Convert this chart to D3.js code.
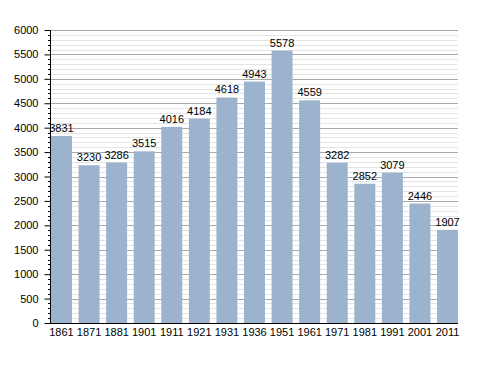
<!DOCTYPE html>
<html><head><meta charset="utf-8">
<script src="https://cdn.jsdelivr.net/npm/d3@7"></script>
<style>body{margin:0;background:#fff}svg{display:block}</style>
</head><body>
<svg id="c" width="488" height="373"></svg>
<script>
const years = ["1861","1871","1881","1901","1911","1921","1931","1936","1951","1961","1971","1981","1991","2001","2011"];
const population = [3831,3230,3286,3515,4016,4184,4618,4943,5578,4559,3282,2852,3079,2446,1907];
const yTicks = [0,500,1000,1500,2000,2500,3000,3500,4000,4500,5000,5500,6000];

(function () {
const svg = d3.select("#c");
const mLeft = 51, mRight = 458, mTop = 30, mBottom = 323;
const font = "Liberation Sans, Arial, sans-serif";

const x = d3.scaleBand().domain(years).range([mLeft, mRight]).paddingInner(0.24).paddingOuter(0);
const y = d3.scaleLinear().domain([0, 6000]).range([mBottom, mTop]);

const minor = d3.range(0, 6001, 100).filter(v => v % 500 !== 0);
svg.append("g").selectAll("line").data(minor).join("line")
  .attr("x1", mLeft).attr("x2", mRight)
  .attr("y1", d => Math.round(y(d)) + 0.5).attr("y2", d => Math.round(y(d)) + 0.5)
  .attr("stroke", "#e4e4e4").attr("stroke-width", 1);
svg.append("g").selectAll("line").data(yTicks.filter(v => v > 0)).join("line")
  .attr("x1", mLeft).attr("x2", mRight)
  .attr("y1", d => Math.round(y(d)) + 0.5).attr("y2", d => Math.round(y(d)) + 0.5)
  .attr("stroke", "#a8a8a8").attr("stroke-width", 1);

svg.append("g").selectAll("rect").data(population).join("rect")
  .attr("x", (d, i) => x(years[i]))
  .attr("width", x.bandwidth())
  .attr("y", d => y(d))
  .attr("height", d => mBottom - y(d))
  .attr("fill", "#9bb3cd");

svg.append("g").selectAll("text").data(population).join("text")
  .attr("x", (d, i) => x(years[i]) + x.bandwidth() / 2)
  .attr("y", d => y(d) - 4)
  .attr("text-anchor", "middle")
  .attr("font-family", font).attr("font-size", 11).attr("fill", "#000")
  .text(d => d);

svg.append("g").selectAll("line").data(minor).join("line")
  .attr("x1", mLeft - 3).attr("x2", mLeft)
  .attr("y1", d => Math.round(y(d)) + 0.5).attr("y2", d => Math.round(y(d)) + 0.5)
  .attr("stroke", "#000");

const yAxis = d3.axisLeft(y).tickValues(yTicks).tickSize(6).tickPadding(6).tickFormat(d3.format("d"));
const gy = svg.append("g").attr("transform", `translate(${mLeft - 0.5},0)`).call(yAxis);
gy.select(".domain").attr("stroke", "#000").attr("d", `M0,${mTop}V${mBottom + 0.5}`);
gy.selectAll(".tick line").attr("stroke", "#000");
gy.selectAll(".tick text").attr("font-family", font).attr("font-size", 11).attr("fill", "#000");

const xAxis = d3.axisBottom(x).tickSize(0).tickPadding(5);
const gx = svg.append("g").attr("transform", `translate(0,${mBottom + 0.5})`).call(xAxis);
gx.select(".domain").attr("stroke", "#000").attr("d", `M${mLeft - 5},0H${mRight}`);
gx.selectAll(".tick text").attr("font-family", font).attr("font-size", 11).attr("fill", "#000");
})();
</script>
</body></html>
